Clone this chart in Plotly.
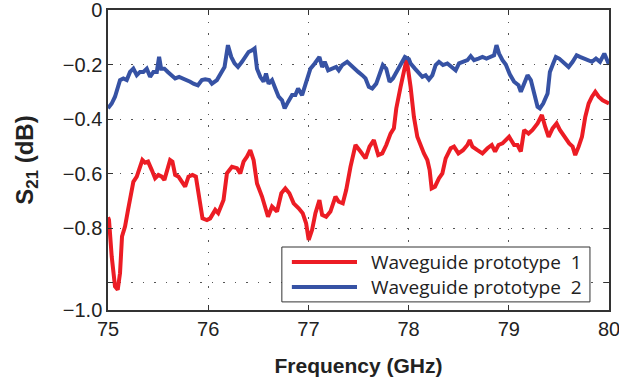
import plotly.graph_objects as go

# Measured transmission S21 of two waveguide prototypes, 75-80 GHz
freq_1 = [75.0, 75.01, 75.037, 75.07, 75.097, 75.12, 75.14, 75.17, 75.2, 75.23, 75.253, 75.287,
          75.32, 75.343, 75.37, 75.40, 75.437, 75.47, 75.503, 75.537, 75.563, 75.587, 75.62,
          75.643, 75.67, 75.703, 75.737, 75.77, 75.803, 75.843, 75.877, 75.91, 75.943, 75.987,
          76.02, 76.07, 76.10, 76.153, 76.187, 76.237, 76.287, 76.32, 76.353, 76.387, 76.42,
          76.453, 76.487, 76.537, 76.57, 76.597, 76.637, 76.687, 76.73, 76.77, 76.81, 76.853,
          76.903, 76.943, 76.977, 77.003, 77.037, 77.07, 77.11, 77.137, 77.177, 77.22, 77.27,
          77.303, 77.343, 77.377, 77.42, 77.47, 77.52, 77.57, 77.61, 77.653, 77.697, 77.737,
          77.777, 77.82, 77.853, 77.877, 77.92, 77.98, 78.02, 78.053, 78.087, 78.12, 78.153,
          78.187, 78.21, 78.23, 78.263, 78.303, 78.337, 78.37, 78.42, 78.453, 78.497, 78.543,
          78.587, 78.61, 78.637, 78.687, 78.737, 78.787, 78.83, 78.863, 78.897, 78.937, 78.97,
          79.003, 79.053, 79.087, 79.12, 79.153, 79.197, 79.237, 79.287, 79.33, 79.363, 79.397,
          79.437, 79.477, 79.51, 79.553, 79.603, 79.637, 79.663, 79.697, 79.73, 79.763, 79.797,
          79.83, 79.863, 79.897, 79.937, 80.0]
s21_1 = [-0.76, -0.77, -0.904, -1.014, -1.026, -0.965, -0.83, -0.794, -0.733, -0.672, -0.63, -0.611,
         -0.568, -0.55, -0.56, -0.556, -0.587, -0.617, -0.605, -0.611, -0.623, -0.587, -0.55,
         -0.556, -0.605, -0.611, -0.63, -0.648, -0.611, -0.605, -0.611, -0.685, -0.764, -0.77,
         -0.764, -0.733, -0.745, -0.697, -0.599, -0.575, -0.58, -0.599, -0.556, -0.538, -0.514,
         -0.55, -0.636, -0.684, -0.721, -0.758, -0.721, -0.739, -0.672, -0.654, -0.672, -0.709,
         -0.727, -0.745, -0.782, -0.843, -0.806, -0.745, -0.697, -0.751, -0.758, -0.739, -0.684,
         -0.703, -0.709, -0.66, -0.575, -0.495, -0.519, -0.544, -0.501, -0.477, -0.532, -0.526,
         -0.495, -0.453, -0.434, -0.361, -0.282, -0.18, -0.282, -0.392, -0.465, -0.501, -0.526,
         -0.55, -0.587, -0.654, -0.648, -0.617, -0.599, -0.544, -0.507, -0.501, -0.526, -0.514,
         -0.495, -0.477, -0.501, -0.514, -0.526, -0.507, -0.495, -0.519, -0.495, -0.489, -0.475,
         -0.465, -0.495, -0.495, -0.519, -0.44, -0.453, -0.44, -0.416, -0.385, -0.428, -0.465,
         -0.434, -0.416, -0.44, -0.465, -0.489, -0.501, -0.532, -0.501, -0.465, -0.392, -0.343,
         -0.318, -0.3, -0.318, -0.331, -0.343]

freq_2 = [75.0, 75.01, 75.037, 75.07, 75.097, 75.12, 75.153, 75.187, 75.22, 75.253, 75.287, 75.32,
          75.353, 75.387, 75.42, 75.453, 75.487, 75.51, 75.53, 75.563, 75.597, 75.63, 75.67,
          75.71, 75.753, 75.787, 75.82, 75.853, 75.897, 75.937, 75.97, 76.01, 76.037, 76.087,
          76.13, 76.163, 76.197, 76.23, 76.263, 76.297, 76.337, 76.37, 76.403, 76.437, 76.463,
          76.487, 76.52, 76.553, 76.577, 76.603, 76.637, 76.67, 76.703, 76.737, 76.763, 76.797,
          76.837, 76.87, 76.897, 76.937, 76.97, 77.02, 77.063, 77.11, 77.137, 77.163, 77.197,
          77.237, 77.277, 77.303, 77.337, 77.387, 77.42, 77.453, 77.497, 77.537, 77.57, 77.603,
          77.637, 77.677, 77.71, 77.743, 77.777, 77.81, 77.843, 77.877, 77.92, 77.963, 78.003,
          78.02, 78.063, 78.103, 78.137, 78.17, 78.203, 78.237, 78.27, 78.303, 78.343, 78.387,
          78.43, 78.47, 78.503, 78.543, 78.587, 78.62, 78.653, 78.697, 78.737, 78.777, 78.82,
          78.853, 78.877, 78.903, 78.937, 78.97, 79.01, 79.053, 79.097, 79.12, 79.153, 79.187,
          79.22, 79.253, 79.287, 79.31, 79.343, 79.387, 79.41, 79.443, 79.47, 79.503, 79.537,
          79.563, 79.597, 79.637, 79.677, 79.71, 79.753, 79.797, 79.83, 79.87, 79.91, 79.953,
          80.0]
s21_2 = [-0.36, -0.355, -0.343, -0.318, -0.282, -0.257, -0.251, -0.257, -0.227, -0.215, -0.239,
         -0.227, -0.227, -0.215, -0.245, -0.227, -0.227, -0.172, -0.215, -0.215, -0.227, -0.239,
         -0.251, -0.245, -0.251, -0.257, -0.263, -0.27, -0.276, -0.257, -0.254, -0.257, -0.27,
         -0.257, -0.233, -0.209, -0.129, -0.172, -0.196, -0.209, -0.19, -0.172, -0.154, -0.148,
         -0.141, -0.215, -0.245, -0.263, -0.233, -0.27, -0.257, -0.288, -0.318, -0.331, -0.361,
         -0.337, -0.312, -0.312, -0.288, -0.312, -0.27, -0.215, -0.196, -0.172, -0.209, -0.19,
         -0.221, -0.215, -0.209, -0.221, -0.202, -0.19, -0.202, -0.215, -0.227, -0.239, -0.251,
         -0.282, -0.288, -0.27, -0.233, -0.202, -0.215, -0.263, -0.251, -0.227, -0.196, -0.172,
         -0.18, -0.196, -0.215, -0.233, -0.245, -0.239, -0.255, -0.239, -0.202, -0.19, -0.202,
         -0.196, -0.209, -0.221, -0.196, -0.19, -0.184, -0.169, -0.184, -0.178, -0.172, -0.178,
         -0.172, -0.166, -0.129, -0.16, -0.184, -0.2, -0.236, -0.263, -0.276, -0.3, -0.27,
         -0.239, -0.257, -0.3, -0.355, -0.361, -0.343, -0.306, -0.227, -0.196, -0.172, -0.178,
         -0.19, -0.202, -0.209, -0.19, -0.166, -0.172, -0.178, -0.184, -0.19, -0.178, -0.19,
         -0.16, -0.2]

series_names = ["Waveguide prototype  1", "Waveguide prototype  2"]
series_colors = ["#ec1c24", "#3652a4"]

x_ticks = [75, 76, 77, 78, 79, 80]
y_ticks = [0, -0.2, -0.4, -0.6, -0.8, -1.1]
y_tick_text = ["0", "\u22120.2", "\u22120.4", "\u22120.6", "\u22120.8", "\u22121.0"]
y_minor_ticks = [-1.0]

fig = go.Figure()
for fx, fy, name, color in [(freq_1, s21_1, series_names[0], series_colors[0]),
                            (freq_2, s21_2, series_names[1], series_colors[1])]:
    fig.add_trace(go.Scatter(x=fx, y=fy, mode="lines", name=name,
                             line=dict(color=color, width=4), showlegend=False))

base_font = "Liberation Sans, Arial, sans-serif"
tick_font = dict(family=base_font, size=20, color="#222222")
grid_dash = "1.5px,10px"
axis_common = dict(
    showline=True, linecolor="#333333", linewidth=1.5, mirror="ticks",
    ticks="inside", ticklen=5, tickcolor="#333333", tickwidth=1,
    showgrid=True, gridcolor="#555555", gridwidth=1, griddash=grid_dash,
    zeroline=False, tickfont=tick_font, automargin=False, ticklabeloverflow="allow",
)

fig.update_xaxes(range=[75, 80], tickvals=x_ticks,
                 title=dict(text="<b>Frequency (GHz)</b>", standoff=20,
                            font=dict(family=base_font, size=21, color="#222222")),
                 **axis_common)
fig.update_yaxes(range=[-1.1, 0], tickvals=y_ticks, ticktext=y_tick_text,
                 minor=dict(tickvals=y_minor_ticks, ticks="inside", ticklen=5,
                            tickcolor="#333333", showgrid=True, gridcolor="#555555",
                            griddash=grid_dash, gridwidth=1),
                 title=dict(text="<b>S<sub>21</sub> (dB)</b>",
                            standoff=22,
                            font=dict(family=base_font, size=24, color="#222222")),
                 **axis_common)

# Legend box drawn in paper coordinates for a longer line sample
legend_font = dict(family="Open Sans, sans-serif", size=19, color="#222222")
fig.add_shape(type="rect", xref="paper", yref="paper", x0=0.347, x1=0.962, y0=0.027, y1=0.21,
              line=dict(color="#333333", width=1), fillcolor="white")
for name, color, yy in [(series_names[0], series_colors[0], 0.16),
                        (series_names[1], series_colors[1], 0.077)]:
    fig.add_shape(type="line", xref="paper", yref="paper", x0=0.367, x1=0.497, y0=yy, y1=yy,
                  line=dict(color=color, width=4))
    fig.add_annotation(xref="paper", yref="paper", x=0.521, y=yy, text=name, showarrow=False,
                       xanchor="left", yanchor="middle", font=legend_font)

fig.update_layout(
    width=619, height=383,
    margin=dict(l=108, r=10, t=10, b=73),
    plot_bgcolor="white", paper_bgcolor="white",
)

fig.write_html("out.html")
